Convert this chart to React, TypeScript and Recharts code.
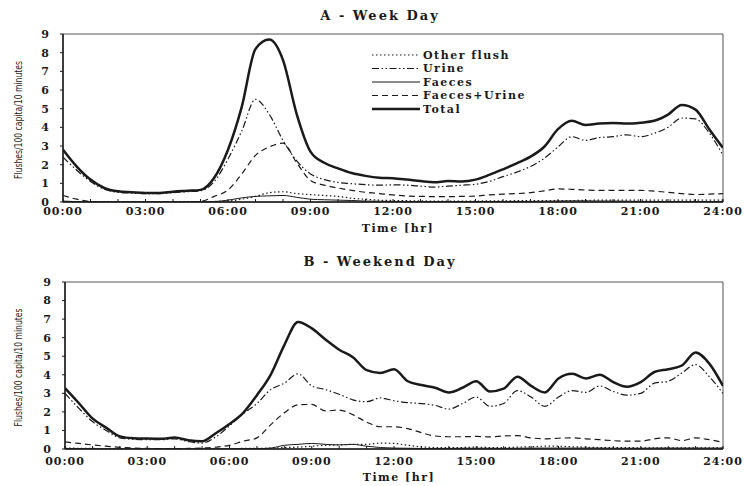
import React from 'react';
import { LineChart, Line, XAxis, YAxis, ReferenceArea, Legend } from 'recharts';

// time of day in hours, one point every 30 minutes
const hours = [
  0, 0.5, 1, 1.5, 2, 2.5, 3, 3.5, 4, 4.5, 5, 5.5,
  6, 6.5, 7, 7.5, 8, 8.5, 9, 9.5, 10, 10.5, 11, 11.5,
  12, 12.5, 13, 13.5, 14, 14.5, 15, 15.5, 16, 16.5, 17, 17.5,
  18, 18.5, 19, 19.5, 20, 20.5, 21, 21.5, 22, 22.5, 23, 23.5, 24,
];
const hourTicks = [0, 1, 2, 3, 4, 5, 6, 7, 8, 9, 10, 11, 12, 13, 14, 15, 16, 17, 18, 19, 20, 21, 22, 23, 24];
const yTicks = [0, 1, 2, 3, 4, 5, 6, 7, 8, 9];

// A - week day
const weekdayOther = [
  0.02, 0.02, 0.02, 0.02, 0.02, 0.02, 0.02, 0.02, 0.02, 0.02, 0.02, 0.03,
  0.05, 0.15, 0.3, 0.5, 0.55, 0.45, 0.4, 0.35, 0.3, 0.2, 0.15, 0.1,
  0.08, 0.07, 0.06, 0.05, 0.05, 0.05, 0.05, 0.06, 0.06, 0.07, 0.08, 0.08,
  0.08, 0.08, 0.09, 0.1, 0.1, 0.1, 0.1, 0.1, 0.1, 0.1, 0.1, 0.1, 0.1,
];
const weekdayUrine = [
  2.4, 1.7, 1.1, 0.68, 0.52, 0.48, 0.45, 0.45, 0.5, 0.55, 0.6, 1.1,
  2.3, 3.8, 5.5, 4.7, 3.3, 2.2, 1.5, 1.2, 1.05, 0.98, 0.93, 0.9,
  0.92, 0.9, 0.85, 0.8, 0.85, 0.9, 0.95, 1.1, 1.36, 1.6, 1.9, 2.34,
  2.95, 3.5, 3.3, 3.45, 3.5, 3.6, 3.5, 3.68, 4.0, 4.5, 4.45, 3.7, 2.5,
];
const weekdayFaeces = [
  0.05, 0.02, 0, 0, 0, 0, 0, 0, 0, 0, 0, 0.02,
  0.1, 0.22, 0.3, 0.33, 0.35, 0.25, 0.15, 0.12, 0.1, 0.08, 0.05, 0.04,
  0.03, 0.03, 0.02, 0.02, 0.02, 0.02, 0.02, 0.02, 0.03, 0.03, 0.03, 0.04,
  0.05, 0.06, 0.06, 0.05, 0.05, 0.04, 0.03, 0.03, 0.02, 0.02, 0.02, 0.02, 0.02,
];
const weekdayFaecesUrine = [
  0.35, 0.15, 0.03, 0, 0, 0, 0, 0, 0, 0, 0.03, 0.3,
  0.64, 1.5, 2.5, 2.95, 3.15, 2.1, 1.15, 0.9, 0.75, 0.62, 0.52, 0.45,
  0.38, 0.32, 0.3, 0.29, 0.29, 0.3, 0.32, 0.38, 0.42, 0.45, 0.5, 0.6,
  0.7, 0.68, 0.64, 0.62, 0.62, 0.62, 0.62, 0.58, 0.52, 0.45, 0.4, 0.42, 0.45,
];
const weekdayTotal = [
  2.8, 1.9, 1.2, 0.75, 0.57, 0.52, 0.48, 0.48, 0.55, 0.6, 0.65, 1.3,
  2.8, 5.1, 8.2, 8.7, 7.6, 4.7, 2.7, 2.1, 1.8, 1.55, 1.4, 1.3,
  1.27, 1.2, 1.12, 1.06, 1.12, 1.1, 1.2, 1.45, 1.75, 2.07, 2.43, 2.96,
  3.9, 4.35, 4.12, 4.2, 4.23, 4.2, 4.25, 4.35, 4.68, 5.2, 4.95, 3.9, 2.9,
];

// B - weekend day
const weekendOther = [
  0.05, 0.04, 0.03, 0.02, 0.02, 0.02, 0.02, 0.02, 0.02, 0.02, 0.02, 0.02,
  0.02, 0.03, 0.03, 0.05, 0.08, 0.1, 0.15, 0.2, 0.22, 0.25, 0.25, 0.32,
  0.3, 0.2, 0.12, 0.08, 0.07, 0.08, 0.1, 0.08, 0.08, 0.1, 0.12, 0.15,
  0.15, 0.12, 0.1, 0.08, 0.08, 0.08, 0.06, 0.06, 0.06, 0.06, 0.06, 0.06, 0.05,
];
const weekendUrine = [
  3.0, 2.2, 1.48, 1.0, 0.6, 0.52, 0.5, 0.5, 0.55, 0.4, 0.32, 0.65,
  1.25, 1.9, 2.45, 3.2, 3.55, 4.05, 3.4, 3.2, 2.95, 2.65, 2.55, 2.75,
  2.6, 2.5, 2.45, 2.35, 2.15, 2.45, 2.8, 2.3, 2.45, 3.15, 2.8, 2.3,
  2.8, 3.15, 3.05, 3.4, 3.1, 2.9, 3.0, 3.55, 3.65, 4.1, 4.55, 3.9, 3.0,
];
const weekendFaeces = [
  0.03, 0.02, 0.01, 0, 0, 0, 0, 0, 0, 0, 0, 0,
  0.01, 0.02, 0.02, 0.05, 0.2, 0.25, 0.3, 0.25, 0.22, 0.25, 0.15, 0.08,
  0.05, 0.04, 0.03, 0.03, 0.03, 0.04, 0.04, 0.04, 0.03, 0.04, 0.05, 0.05,
  0.05, 0.05, 0.05, 0.05, 0.04, 0.04, 0.04, 0.05, 0.05, 0.05, 0.05, 0.05, 0.05,
];
const weekendFaecesUrine = [
  0.38, 0.3, 0.22, 0.15, 0.09, 0.05, 0.03, 0.02, 0.02, 0.03, 0.05, 0.1,
  0.2, 0.42, 0.6, 1.3, 1.95, 2.38, 2.4, 2.05, 2.1, 1.85, 1.45, 1.2,
  1.2, 1.1, 0.88, 0.7, 0.66, 0.66, 0.68, 0.65, 0.7, 0.72, 0.6, 0.55,
  0.58, 0.6, 0.55, 0.5, 0.45, 0.42, 0.42, 0.55, 0.6, 0.45, 0.6, 0.5, 0.36,
];
const weekendTotal = [
  3.28, 2.48, 1.65, 1.15, 0.68, 0.58, 0.56, 0.55, 0.62, 0.47, 0.42, 0.85,
  1.35, 1.95, 2.9, 4.0, 5.6, 6.85, 6.5, 5.9, 5.35, 4.95, 4.25, 4.1,
  4.3, 3.65, 3.45, 3.3, 3.05, 3.3, 3.65, 3.1, 3.25, 3.9, 3.4, 3.05,
  3.8, 4.05, 3.8, 4.0, 3.6, 3.35, 3.6, 4.15, 4.3, 4.5, 5.2, 4.6, 3.4,
];

const series = [
  { key: 'other', name: 'Other flush', dash: '1.5 2.5', width: 1.2 },
  { key: 'urine', name: 'Urine', dash: '7 2.5 1.5 2.5 1.5 2.5', width: 1.2 },
  { key: 'faeces', name: 'Faeces', dash: undefined, width: 1 },
  { key: 'faecesUrine', name: 'Faeces+Urine', dash: '6 4', width: 1.2 },
  { key: 'total', name: 'Total', dash: undefined, width: 2.5 },
];

const weekdayRows = hours.map((hour, i) => ({
  hour,
  other: weekdayOther[i],
  urine: weekdayUrine[i],
  faeces: weekdayFaeces[i],
  faecesUrine: weekdayFaecesUrine[i],
  total: weekdayTotal[i],
}));

const weekendRows = hours.map((hour, i) => ({
  hour,
  other: weekendOther[i],
  urine: weekendUrine[i],
  faeces: weekendFaeces[i],
  faecesUrine: weekendFaecesUrine[i],
  total: weekendTotal[i],
}));

const SERIF = '"DejaVu Serif", "Liberation Serif", serif';
const INK = '#1a1a1a';

const fmtHour = (h: number) => (h % 3 === 0 ? `${String(h).padStart(2, '0')}:00` : '');

const LegendBox = ({ bold, sample, step }: { bold: boolean; sample: number; step: number }) => (
  <svg width={220} height={80}>
    {series.map((s, i) => {
      const y = 7 + i * step;
      return (
        <g key={s.key}>
          <line x1={0} x2={sample} y1={y} y2={y} stroke={INK} strokeWidth={s.width} strokeDasharray={s.dash} />
          <text
            x={sample + 3}
            y={y}
            dominantBaseline="central"
            fontFamily={SERIF}
            fontWeight={bold ? 'bold' : 'normal'}
            fontSize={11}
            letterSpacing={1.5}
            fill={INK}
          >
            {s.name}
          </text>
        </g>
      );
    })}
  </svg>
);

interface PanelProps {
  rows: typeof weekdayRows;
  top: number;
  yAxisWidth: number;
  xAxisHeight: number;
  tickMargin: number;
  labelDy: number;
  legendLeft: number;
  legendTop: number;
  legendSample: number;
  legendStep: number;
  legendBold: boolean;
}

const Panel = (p: PanelProps) => {
  const tickStyle = { fontFamily: SERIF, fontWeight: 'bold', fontSize: 11, fill: INK, letterSpacing: 1 };
  return (
    <LineChart
      width={744}
      height={243}
      data={p.rows}
      margin={{ top: p.top, right: 21, bottom: 0, left: 0 }}
    >
      <XAxis
        dataKey="hour"
        type="number"
        domain={[0, 24]}
        ticks={hourTicks}
        interval={0}
        tickFormatter={fmtHour}
        tickSize={-3}
        tickMargin={p.tickMargin}
        height={p.xAxisHeight}
        axisLine={{ stroke: INK, strokeWidth: 1.5 }}
        tickLine={{ stroke: INK }}
        tick={tickStyle}
        allowDataOverflow
        label={(lp: any) => {
          const vb = lp.viewBox ?? { x: 0, y: 0, width: 0, height: 0 };
          return (
            <text
              x={vb.x + vb.width / 2 + 5}
              y={vb.y + p.labelDy}
              textAnchor="middle"
              dominantBaseline="central"
              fontFamily={SERIF}
              fontWeight="bold"
              fontSize={11}
              letterSpacing={1.5}
              fill={INK}
            >
              Time [hr]
            </text>
          );
        }}
      />
      <YAxis
        type="number"
        domain={[0, 9]}
        ticks={yTicks}
        interval={0}
        width={p.yAxisWidth}
        tickSize={3}
        tickMargin={10}
        axisLine={{ stroke: INK, strokeWidth: 1.5 }}
        tickLine={{ stroke: INK }}
        tick={tickStyle}
        allowDataOverflow
        label={(lp: any) => {
          const vb = lp.viewBox ?? { x: 0, y: 0, width: 0, height: 0 };
          const cx = vb.x + 18;
          const cy = vb.y + vb.height / 2 + 2;
          return (
            <text
              x={cx}
              y={cy}
              transform={`rotate(-90 ${cx} ${cy})`}
              textAnchor="middle"
              dominantBaseline="central"
              fontFamily='"Liberation Sans Narrow", "DejaVu Sans Condensed", sans-serif'
              fontSize={11}
              textLength={118}
              lengthAdjust="spacingAndGlyphs"
              fill={INK}
            >
              Flushes/100 capita/10 minutes
            </text>
          );
        }}
      />
      <ReferenceArea x1={0} x2={24} y1={0} y2={9} fill="none" stroke="#555" strokeWidth={1} ifOverflow="visible" />
      {series.map((s) => (
        <Line
          key={s.key}
          dataKey={s.key}
          name={s.name}
          type="monotone"
          stroke={INK}
          strokeWidth={s.width}
          strokeDasharray={s.dash}
          dot={false}
          activeDot={false}
          isAnimationActive={false}
        />
      ))}
      <Legend
        layout="vertical"
        align="center"
        verticalAlign="middle"
        wrapperStyle={{ left: p.legendLeft, top: p.legendTop, width: 220, height: 80 }}
        content={() => <LegendBox bold={p.legendBold} sample={p.legendSample} step={p.legendStep} />}
      />
    </LineChart>
  );
};

const titleStyle: React.CSSProperties = {
  position: 'absolute',
  left: 0,
  width: 760,
  textAlign: 'center',
  fontFamily: SERIF,
  fontWeight: 'bold',
  fontSize: 13,
  lineHeight: '16px',
  letterSpacing: 2,
  color: INK,
};

export default function App() {
  return (
    <div style={{ position: 'absolute', left: 0, top: 0, width: 744, height: 486, background: '#fff' }}>
      <div style={{ ...titleStyle, top: 8 }}>A - Week Day</div>
      <div style={{ position: 'absolute', left: 0, top: 0 }}>
        <Panel
          rows={weekdayRows}
          top={34}
          yAxisWidth={63}
          xAxisHeight={41}
          tickMargin={8}
          labelDy={26}
          legendLeft={372}
          legendTop={48}
          legendSample={48}
          legendStep={13.5}
          legendBold={true}
        />
      </div>
      <div style={{ ...titleStyle, top: 254 }}>B - Weekend Day</div>
      <div style={{ position: 'absolute', left: 0, top: 243 }}>
        <Panel
          rows={weekendRows}
          top={39}
          yAxisWidth={65}
          xAxisHeight={37}
          tickMargin={11}
          labelDy={28}
          legendLeft={412}
          legendTop={287}
          legendSample={45}
          legendStep={13.75}
          legendBold={false}
        />
      </div>
    </div>
  );
}
